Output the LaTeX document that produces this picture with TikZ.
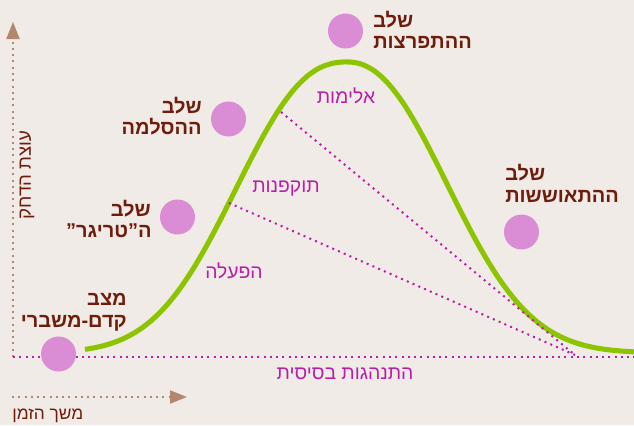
\documentclass[tikz,border=0pt]{standalone}
\usepackage{fontspec}
\TeXXeTstate=1
\newfontfamily\heb[Script=Hebrew]{Liberation Sans}
\usetikzlibrary{arrows.meta}
\definecolor{bg}{HTML}{F0EBE7}
\definecolor{curvegreen}{HTML}{8DC400}
\definecolor{stagepink}{HTML}{DA8CD5}
\definecolor{stagebrown}{HTML}{6E1C0C}
\definecolor{behmag}{HTML}{B71FA6}
\definecolor{axisbrown}{HTML}{B3866E}
\begin{document}
\begin{tikzpicture}[x=0.75pt,y=-0.75pt,
  stagetext/.style={font=\heb\bfseries\fontsize{15}{15}\selectfont, text=stagebrown, inner sep=0pt},
  behtext/.style={font=\heb\fontsize{14.5}{14.5}\selectfont, text=behmag, inner sep=0pt},
  axistext/.style={font=\heb\fontsize{13}{13}\selectfont, text=stagebrown, inner sep=0pt},
  stagedot/.style={circle, fill=stagepink, minimum size=26.25pt, inner sep=0pt},
  magdots/.style={draw=behmag, line width=1.5pt, dash pattern=on 1.5pt off 3.2pt},
  axisdots/.style={draw=axisbrown, line width=1.5pt, dash pattern=on 1.5pt off 3.2pt},
  axisarrow/.style={-{Triangle[length=12.75pt,width=9.75pt,fill=axisbrown]}},
  curveline/.style={draw=curvegreen, line width=3.8pt},
]
\fill[bg] (0,0) rectangle (634,425);
\useasboundingbox (0,0) rectangle (634,425);

% axes
\coordinate (origin) at (13,357);
\coordinate (ytop) at (13,22);
\coordinate (xstart) at (12,397);
\coordinate (xend) at (187,397);
\coordinate (baseend) at (634,357);
\draw[axisdots, axisarrow] (origin) -- (ytop);
\draw[axisdots, axisarrow] (xstart) -- (xend);
\draw[magdots] (origin) -- (baseend);

\node[axistext, font=\heb\fontsize{14}{14}\selectfont, rotate=90] (ylab) at (27,175) {\beginR עוצת הדחק\endR};
\node[axistext, anchor=base west] (xlab) at (12,419) {\beginR משך הזמן\endR};

% curve (peak at x=347, base y=353)
\draw[curveline] plot[domain=85:347, samples=90]
  (\x, {353-291*exp(-((abs(\x-347)+0.01)/140.5)^2.37)})
  -- plot[domain=347:636, samples=90]
  (\x, {353-291*exp(-((abs(\x-347)+0.01)/132)^2.2)});

% dotted connectors
\coordinate (violence) at (281,112);
\coordinate (aggr) at (229,203);
\coordinate (conv) at (575,355);
\draw[magdots] (violence) -- (conv);
\draw[magdots] (aggr) -- (conv);

% behaviour labels
\node[behtext, anchor=base] (lviol) at (346,103) {\beginR אלימות\endR};
\node[behtext, anchor=base] (laggr) at (286,192) {\beginR תוקפנות\endR};
\node[behtext, anchor=base] (lact) at (234,278) {\beginR הפעלה\endR};
\node[behtext, anchor=base] (lbase) at (345,379) {\beginR התנהגות בסיסית\endR};

% stage dots
\node[stagedot] (d1) at (58.5,354) {};
\node[stagedot] (d2) at (177.5,217) {};
\node[stagedot] (d3) at (228.5,119) {};
\node[stagedot] (d4) at (345.5,31) {};
\node[stagedot] (d5) at (521.5,232) {};

% stage labels
\node[stagetext, anchor=base east] (s1a) at (127,305) {\beginR מצב\endR};
\node[stagetext, anchor=base east] (s1b) at (127,327) {\beginR קדם-משברי\endR};
\node[stagetext, anchor=base east] (s2a) at (151,216) {\beginR שלב\endR};
\node[stagetext, anchor=base east] (s2b) at (152,237) {\beginR ה”טריגר”\endR};
\node[stagetext, anchor=base east] (s3a) at (202,113) {\beginR שלב\endR};
\node[stagetext, anchor=base east] (s3b) at (202,134) {\beginR ההסלמה\endR};
\node[stagetext, anchor=base west] (s4a) at (373,27) {\beginR שלב\endR};
\node[stagetext, anchor=base west] (s4b) at (373,48) {\beginR ההתפרצות\endR};
\node[stagetext, anchor=base west] (s5a) at (505,180) {\beginR שלב\endR};
\node[stagetext, anchor=base west] (s5b) at (505,202) {\beginR ההתאוששות\endR};
\end{tikzpicture}
\end{document}
